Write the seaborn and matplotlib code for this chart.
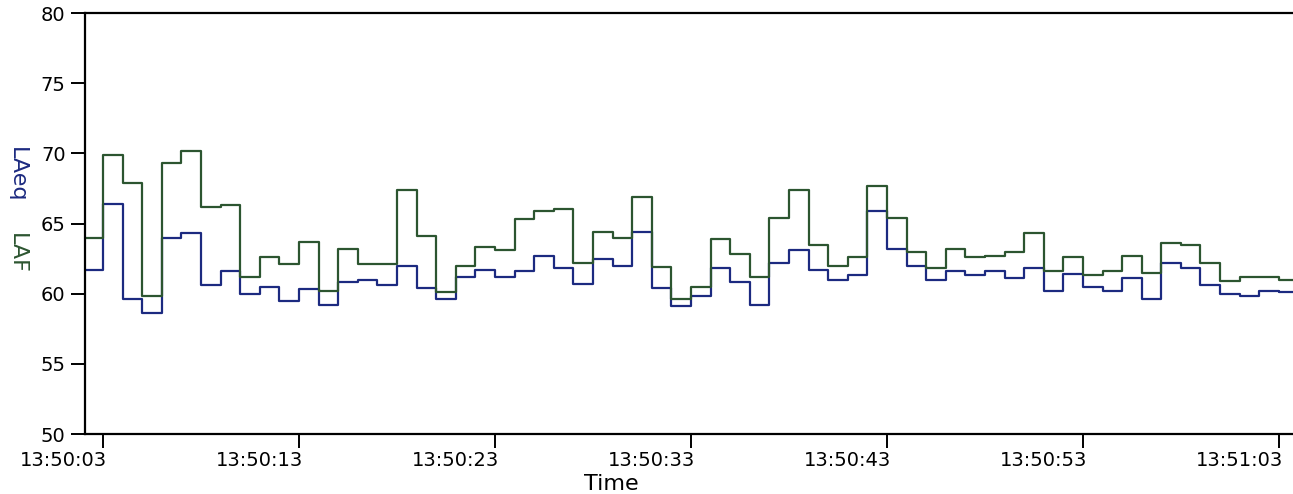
import matplotlib
matplotlib.use("Agg")
import matplotlib.pyplot as plt
import matplotlib.dates as mdates
from matplotlib.transforms import ScaledTranslation
import numpy as np
import pandas as pd
import seaborn as sns

# ---- data (1-second values, starting 13:50:02) ----
start_time = "2024-01-01 13:50:02"
laf = [64.0, 69.9, 67.9, 59.8, 69.3, 70.2, 66.2, 66.3, 61.2, 62.6,
       62.1, 63.7, 60.2, 63.2, 62.1, 62.1, 67.4, 64.1, 60.1, 62.0,
       63.3, 63.1, 65.3, 65.9, 66.0, 62.2, 64.4, 64.0, 66.9, 61.9,
       59.6, 60.5, 63.9, 62.8, 61.2, 65.4, 67.4, 63.5, 62.0, 62.6,
       67.7, 65.4, 63.0, 61.8, 63.2, 62.6, 62.7, 63.0, 64.3, 61.6,
       62.6, 61.3, 61.6, 62.7, 61.5, 63.6, 63.5, 62.2, 60.9, 61.2,
       61.2, 61.0]
laeq = [61.7, 66.4, 59.6, 58.6, 64.0, 64.3, 60.6, 61.6, 60.0, 60.5,
        59.5, 60.3, 59.2, 60.8, 61.0, 60.6, 62.0, 60.4, 59.6, 61.2,
        61.7, 61.2, 61.6, 62.7, 61.8, 60.7, 62.5, 62.0, 64.4, 60.4,
        59.1, 59.8, 61.8, 60.8, 59.2, 62.2, 63.1, 61.7, 61.0, 61.3,
        65.9, 63.2, 62.0, 61.0, 61.6, 61.3, 61.6, 61.1, 61.8, 60.2,
        61.4, 60.5, 60.2, 61.1, 59.6, 62.2, 61.8, 60.6, 60.0, 59.8,
        60.2, 60.1]
y_ticks = [50, 55, 60, 65, 70, 75, 80]
x_tick_seconds = [3, 13, 23, 33, 43, 53]

times = pd.date_range(start_time, periods=len(laf), freq="1s")
# extra trailing point so the last step is drawn to the right edge
times_ext = times.append(pd.DatetimeIndex([times[-1] + pd.Timedelta(seconds=1)]))
df = pd.DataFrame({
    "Time": list(times_ext) * 2,
    "value": laeq + [laeq[-1]] + laf + [laf[-1]],
    "series": ["LAeq"] * len(times_ext) + ["LAF"] * len(times_ext),
})

green = "#2c5530"
blue = "#1c2a80"

sns.set_style("ticks")
plt.rcParams["font.family"] = ["DejaVu Sans"]

fig = plt.figure(figsize=(12.93, 4.94), dpi=100)
ax = fig.add_axes([85 / 1293, 60 / 494, 1 - 85 / 1293, 421 / 494])

sns.lineplot(data=df, x="Time", y="value", hue="series",
             hue_order=["LAeq", "LAF"], palette={"LAeq": blue, "LAF": green},
             drawstyle="steps-post", linewidth=1.6, legend=False, ax=ax,
             estimator=None)

t0 = pd.Timestamp(start_time)
ax.set_xlim(t0 + pd.Timedelta(seconds=0.08), t0 + pd.Timedelta(seconds=61.72))
ax.set_ylim(50, 80)
ax.set_yticks(y_ticks)
ax.xaxis.set_major_locator(mdates.SecondLocator(bysecond=x_tick_seconds))
ax.xaxis.set_major_formatter(mdates.DateFormatter("%H:%M:%S"))

for s in ["left", "bottom", "top"]:
    ax.spines[s].set_linewidth(1.6)
    ax.spines[s].set_color("black")
ax.spines["right"].set_visible(False)

ax.tick_params(axis="both", labelsize=14, colors="black", width=1.4, length=10, direction="out")
ax.tick_params(axis="y", pad=4)
ax.tick_params(axis="x", pad=2)

offset = ScaledTranslation(4 / 100, 0, fig.dpi_scale_trans)
for lbl in ax.get_xticklabels():
    lbl.set_horizontalalignment("right")
    lbl.set_transform(lbl.get_transform() + offset)

ax.set_xlabel("Time", fontsize=16, color="black")
ax.xaxis.set_label_coords(0.436, -0.095)
ax.set_ylabel("")

fig.text(17 / 1293, 1 - 175 / 494, "LAeq", rotation=270, color=blue, fontsize=16,
         ha="center", va="center")
fig.text(17 / 1293, 1 - 253 / 494, "LAF", rotation=270, color=green, fontsize=16,
         ha="center", va="center")

fig.savefig("out.png", dpi=100)
